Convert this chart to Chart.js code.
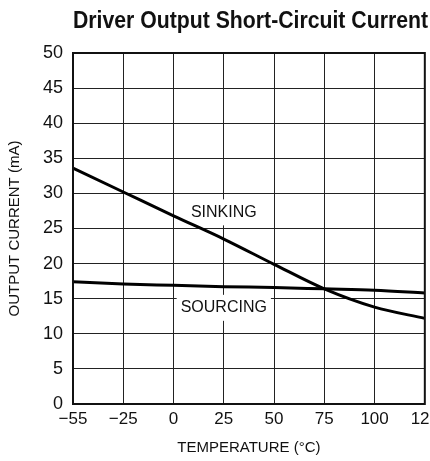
<!DOCTYPE html>
<html>
<head>
<meta charset="utf-8">
<script src="https://cdn.jsdelivr.net/npm/chart.js@4/dist/chart.umd.min.js"></script>
<style>
  html, body { margin: 0; padding: 0; background: #fff; overflow: hidden; }
  #wrap { width: 444px; height: 461px; }
</style>
</head>
<body>
<div id="wrap"><canvas id="chart"></canvas></div>
<script>
const FONT = '"Liberation Sans", Arial, sans-serif';

// temperature ticks (°C), evenly spaced on the original plot
const temps = ['\u221255', '\u221225', '0', '25', '50', '75', '100', '125'];
// short-circuit current (mA)
const sinking = [33.6, 30.2, 26.8, 23.5, 19.9, 16.4, 13.8, 12.2];
const sourcing = [17.4, 17.1, 16.9, 16.7, 16.6, 16.4, 16.2, 15.8];

// curve labels: text, temperature index, current
const labelText = ['SINKING', 'SOURCING'];
const labelIdx = [3, 3];
const labelVal = [27.3, 13.7];

const decor = {
  id: 'decor',
  beforeDatasetsDraw(chart) {
    const { ctx, scales: { x, y } } = chart;
    ctx.save();
    // white boxes behind curve labels (break the grid)
    ctx.font = '16px ' + FONT;
    labelText.forEach((t, i) => {
      const cx = x.getPixelForValue(labelIdx[i]);
      const cy = y.getPixelForValue(labelVal[i]);
      const w = ctx.measureText(t).width;
      ctx.fillStyle = '#fff';
      ctx.fillRect(cx - w / 2 - 4, cy - 13, w + 8, 26);
    });
    ctx.restore();
  },
  afterDatasetsDraw(chart) {
    const { ctx, chartArea: a, scales: { x, y } } = chart;
    ctx.save();
    ctx.fillStyle = '#111';
    ctx.font = '16px ' + FONT;
    ctx.textAlign = 'center';
    ctx.textBaseline = 'middle';
    labelText.forEach((t, i) => {
      ctx.fillText(t, x.getPixelForValue(labelIdx[i]), y.getPixelForValue(labelVal[i]));
    });
    // plot frame
    ctx.strokeStyle = '#111';
    ctx.lineWidth = 2;
    ctx.strokeRect(a.left, a.top, a.right - a.left, a.bottom - a.top);
    // title, condensed to the width of the original
    ctx.font = 'bold 24px ' + FONT;
    ctx.textBaseline = 'alphabetic';
    const title = 'Driver Output Short-Circuit Current';
    const k = 355 / ctx.measureText(title).width;
    ctx.translate(250.5, 28);
    ctx.scale(k, 1);
    ctx.fillText(title, 0, 0);
    ctx.restore();
  }
};

new Chart(document.getElementById('chart'), {
  type: 'line',
  data: {
    labels: temps,
    datasets: [{
      label: 'SINKING',
      data: sinking,
      borderColor: '#000',
      borderWidth: 3,
      pointRadius: 0,
      cubicInterpolationMode: 'monotone'
    }, {
      label: 'SOURCING',
      data: sourcing,
      borderColor: '#000',
      borderWidth: 3,
      pointRadius: 0,
      cubicInterpolationMode: 'monotone'
    }]
  },
  options: {
    responsive: true,
    maintainAspectRatio: false,
    animation: false,
    layout: { padding: { top: 53, right: 16, left: 0, bottom: 0 } },
    plugins: {
      legend: { display: false },
      tooltip: { enabled: false }
    },
    scales: {
      x: {
        offset: false,
        grid: { color: '#222', lineWidth: 1, drawTicks: false },
        border: { display: false },
        ticks: { color: '#111', font: { family: FONT, size: 17 }, padding: 5, maxRotation: 0, autoSkip: false },
        title: { display: true, text: 'TEMPERATURE (\u00b0C)', color: '#111', font: { family: FONT, size: 15 }, padding: { top: 8 } },
        afterFit(scale) { scale.height = 57; }
      },
      y: {
        min: 0,
        max: 50,
        grid: { color: '#222', lineWidth: 1, drawTicks: false },
        border: { display: false },
        ticks: { stepSize: 5, color: '#111', font: { family: FONT, size: 18 }, padding: 10 },
        title: { display: true, text: 'OUTPUT CURRENT (mA)', color: '#111', font: { family: FONT, size: 15 }, padding: { top: 6, bottom: 0 } },
        afterFit(scale) { scale.width = 73; }
      }
    }
  },
  plugins: [decor]
});
</script>
</body>
</html>
